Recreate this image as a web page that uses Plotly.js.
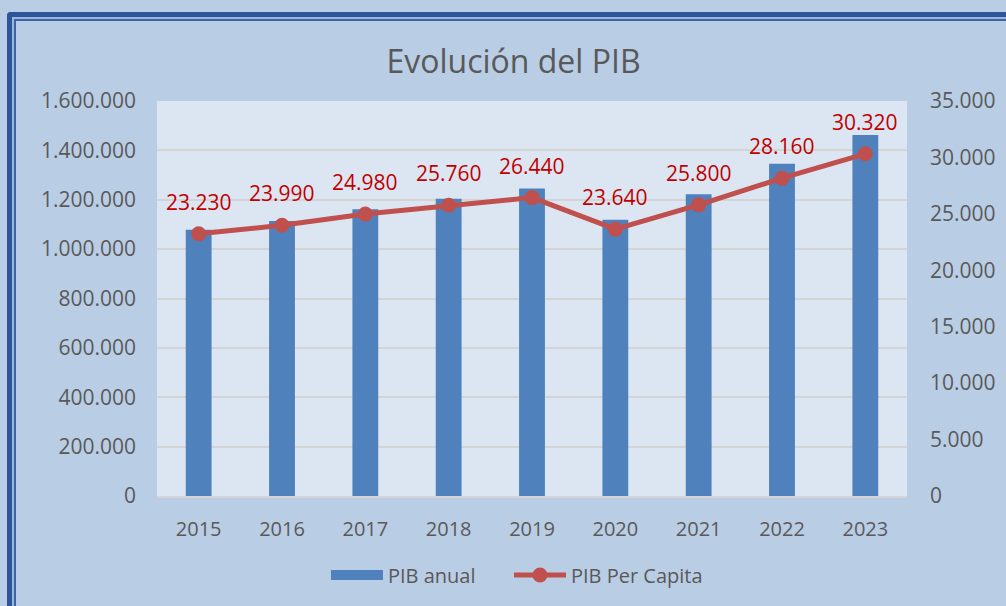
<!DOCTYPE html>
<html>
<head>
<meta charset="utf-8">
<script src="https://cdn.plot.ly/plotly-3.0.1.min.js"></script>
<style>
  html, body { margin: 0; padding: 0; background: #b9cde5; }
  #wrap { position: relative; width: 1006px; height: 606px; overflow: hidden; }
  #chart { position: absolute; left: 0; top: 0; width: 1006px; height: 606px; }
  .b1 { position: absolute; left: 7px; top: 12px; width: 1100px; height: 700px;
        border-left: 5px solid #2e5597; border-top: 5px solid #2e5597; border-top-left-radius: 4px; pointer-events: none; }
  .b2 { position: absolute; left: 12px; top: 17px; width: 1100px; height: 700px;
        border-left: 2px solid #9db5dc; border-top: 2px solid #9db5dc; pointer-events: none; }
  .b3 { position: absolute; left: 14px; top: 19px; width: 1100px; height: 700px;
        border-left: 2px solid #3d64a6; border-top: 2px solid #3d64a6; pointer-events: none; }
</style>
</head>
<body>
<div id="wrap">
  <div id="chart"></div>
  <div class="b1"></div>
  <div class="b2"></div>
  <div class="b3"></div>
</div>
<script>
const years = [2015, 2016, 2017, 2018, 2019, 2020, 2021, 2022, 2023];
const pibAnual = [1078000, 1114000, 1162000, 1204000, 1246000, 1119000, 1222000, 1346000, 1462000];
const pibPerCapita = [23230, 23990, 24980, 25760, 26440, 23640, 25800, 28160, 30320];

function fmt(v) {
  return String(v).replace(/\B(?=(\d{3})+(?!\d))/g, '.');
}

const font = 'Open Sans, Noto Sans, sans-serif';
const grey = '#595959';

const traces = [
  {
    type: 'bar', name: 'PIB anual', x: years, y: pibAnual,
    marker: { color: '#4f81bd', line: { width: 0 } },
    showlegend: false, hoverinfo: 'skip', width: 0.31
  },
  {
    // legend glyph for the bars (wide rectangle like the reference)
    type: 'scatter', mode: 'lines', name: 'PIB anual', x: [null], y: [null],
    line: { color: '#4f81bd', width: 13 }, hoverinfo: 'skip', legend: 'legend'
  },
  {
    type: 'scatter', mode: 'lines+markers', name: 'PIB Per Capita', x: years, y: pibPerCapita,
    yaxis: 'y2',
    line: { color: '#c0504d', width: 5 },
    marker: { color: '#c0504d', size: 15 },
    hoverinfo: 'skip', legend: 'legend2'
  }
];

const annotations = years.map((yr, i) => ({
  x: yr, y: pibPerCapita[i], xref: 'x', yref: 'y2',
  text: fmt(pibPerCapita[i]), showarrow: false,
  yshift: 32, yanchor: 'middle', xanchor: 'center',
  font: { family: font, size: 21, color: '#c00000' }
}));

const legendBase = {
  orientation: 'h', xanchor: 'left', y: -0.2, yanchor: 'middle',
  font: { family: font, size: 20, color: grey },
  itemwidth: 52, bgcolor: 'rgba(0,0,0,0)'
};

const layout = {
  width: 1006, height: 606,
  paper_bgcolor: 'rgba(0,0,0,0)',
  plot_bgcolor: '#dce6f2',
  margin: { l: 157, r: 99, t: 101, b: 108 },
  separators: ',.',
  font: { family: font, color: grey },
  title: {
    text: 'Evolución del PIB', xref: 'container', x: 513.5 / 1006, xanchor: 'center',
    yref: 'container', y: 1 - 62 / 606, yanchor: 'middle',
    font: { family: font, size: 32, color: grey }
  },
  showlegend: true,
  legend: Object.assign({}, legendBase, { x: 0.2253 }),
  legend2: Object.assign({}, legendBase, { x: 0.4693 }),
  xaxis: {
    type: 'linear', range: [2014.5, 2023.5], tickvals: years, ticktext: years.map(String),
    tickfont: { family: font, size: 20, color: grey },
    showgrid: false, zeroline: false, showline: true, linecolor: '#d4d4d4', linewidth: 2,
    ticks: '', ticklabelstandoff: 14
  },
  yaxis: {
    range: [0, 1600000], dtick: 200000, tickformat: ',d',
    tickfont: { family: font, size: 21, color: grey },
    showgrid: true, gridcolor: '#d4d4d4', gridwidth: 2, zeroline: false,
    showline: false, ticks: '', ticklabelstandoff: 20
  },
  yaxis2: {
    overlaying: 'y', side: 'right',
    range: [0, 35000], dtick: 5000, tickformat: ',d',
    tickfont: { family: font, size: 21, color: grey },
    showgrid: false, zeroline: false, showline: false, ticks: '', ticklabelstandoff: 22
  },
  annotations: annotations
};

Plotly.newPlot('chart', traces, layout, { displayModeBar: false, staticPlot: true });
</script>
</body>
</html>
